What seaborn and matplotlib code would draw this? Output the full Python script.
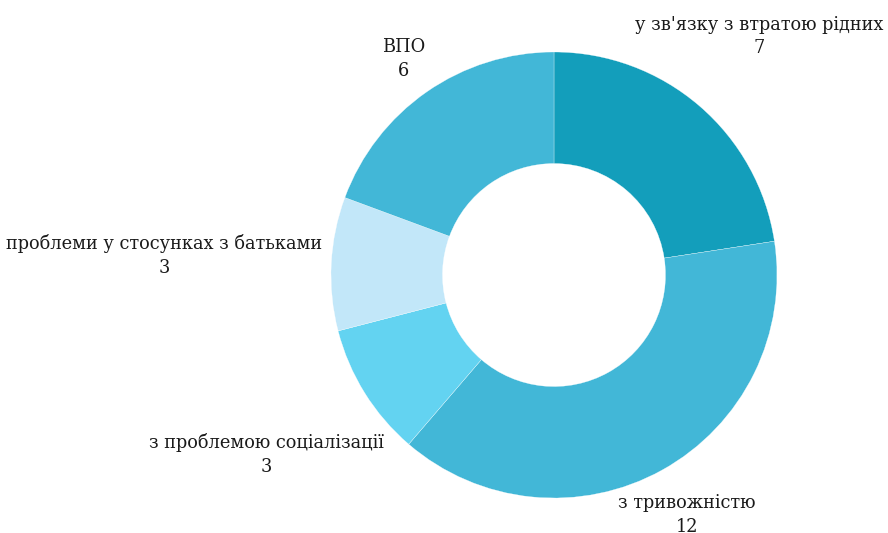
import numpy as np
import matplotlib
matplotlib.use("Agg")
import matplotlib.pyplot as plt
import seaborn as sns

# Categories and counts
labels = ["у зв'язку з втратою рідних", "з тривожністю", "з проблемою соціалізації",
          "проблеми у стосунках з батьками", "ВПО"]
values = [7, 12, 3, 3, 6]
colors = ["#139EBB", "#42B7D7", "#63D3F1", "#C2E7F9", "#42B7D7"]
# how far each label sits from the centre (in radii)
label_dist = [1.41, 1.23, 1.52, 1.75, 1.18]

sns.set_theme(style="white")
plt.rcParams['font.family'] = ['DejaVu Serif']

fig = plt.figure(figsize=(8.88, 5.33), dpi=100)
cx, cy, r = 554, 275, 223
ax = fig.add_axes([(cx - r) / 888, (533 - cy - r) / 533, 2 * r / 888, 2 * r / 533])

wedges, _ = ax.pie(values, colors=colors, startangle=90, counterclock=False,
                   radius=1, wedgeprops=dict(width=0.5, edgecolor="white", linewidth=0.2))

# labels at each slice's middle angle
total = sum(values)
ends = np.cumsum(values)
starts = ends - np.array(values)
for lab, v, s, e, d in zip(labels, values, starts, ends, label_dist):
    ang = np.deg2rad(90 - (s + e) / 2 / total * 360)
    ax.text(d * np.cos(ang), d * np.sin(ang), f"{lab}\n{v}", ha="center", va="center",
            fontsize=12.8, color="#1a1a1a", linespacing=1.4)

ax.set_xlim(-1, 1)
ax.set_ylim(-1, 1)
ax.set_aspect("equal")
ax.axis("off")

fig.savefig("out.png", dpi=100)
